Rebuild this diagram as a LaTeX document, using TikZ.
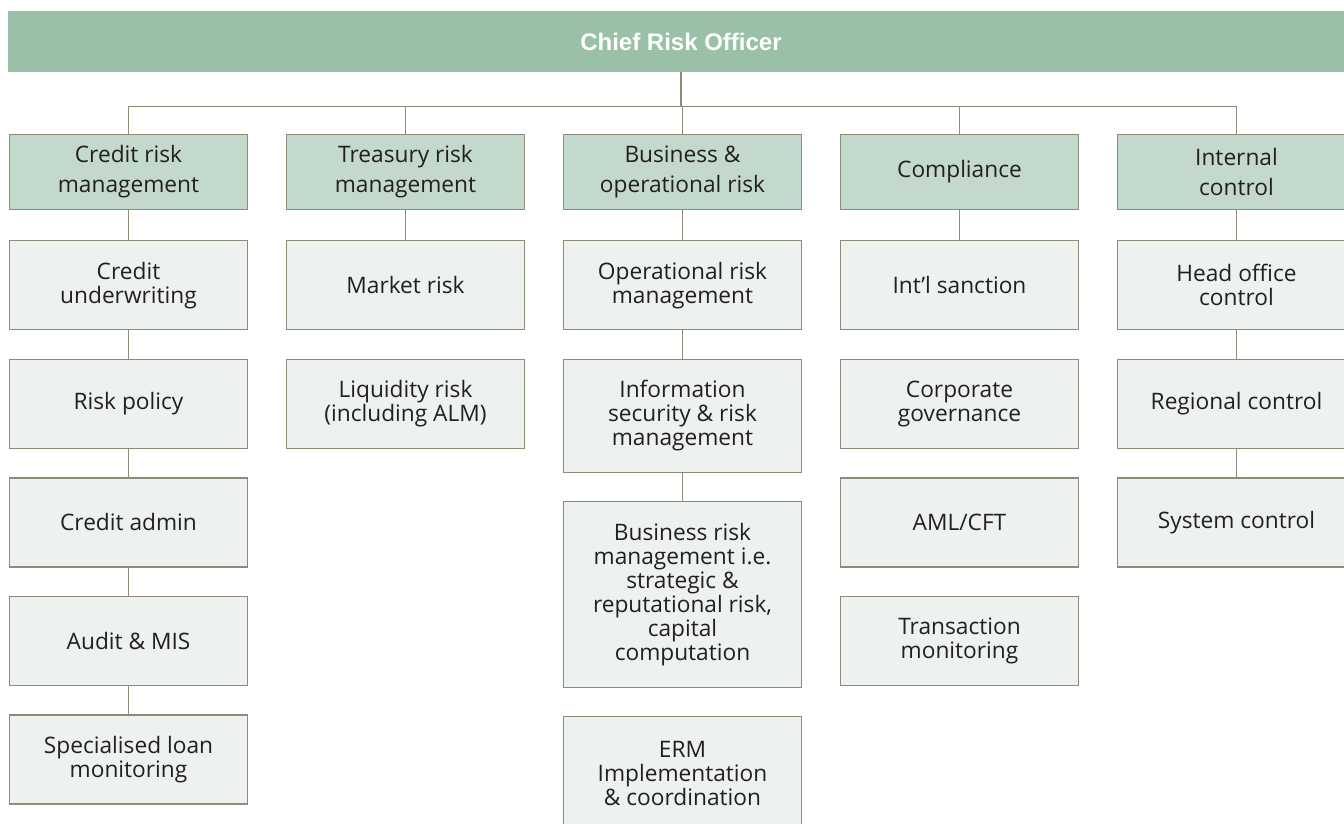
\documentclass[tikz,border=0pt]{standalone}
\usepackage{fontspec}
\setmainfont{Open Sans}
\newfontfamily\titlefont{Liberation Sans}
\usetikzlibrary{positioning}
\definecolor{barGreen}{HTML}{9AC1A8}
\definecolor{unitGreen}{HTML}{C3D9CB}
\definecolor{subGrey}{HTML}{EEF2EF}
\definecolor{lineGrey}{HTML}{8E8C78}
\definecolor{textDark}{HTML}{231F20}
\tikzset{
	unit/.style={draw=lineGrey, line width=1.3pt, fill=unitGreen, minimum width=238pt, minimum height=75pt, inner sep=0pt, align=center, text=textDark, font=\fontsize{22.7}{30}\selectfont},
	sub/.style={unit, fill=subGrey, minimum height=89pt, font=\fontsize{22.7}{24}\selectfont},
	link/.style={draw=lineGrey, line width=1.3pt}
}

\begin{document}
\begin{tikzpicture}[x=1pt,y=-1pt,on grid,node distance=277pt]
			\useasboundingbox (0,0) rectangle (1344,823);
			\node[fill=barGreen, minimum width=1346pt, minimum height=61pt, inner sep=0pt, text=white, font=\titlefont\bfseries\fontsize{24}{28}\selectfont] (cro) at (681,41.5) {Chief Risk Officer};
			% units
			\node[unit] (cr) at (128.5,171.8) {Credit risk\\management};
			\node[unit] (tr) [right=of cr] {Treasury risk\\management};
			\node[unit] (br) [right=of tr] {Business \&\\operational risk};
			\node[unit] (co) [right=of br] {Compliance};
			\node[unit] (ic) [right=of co] {Internal\\control};
			% credit
			\node[sub] (cu) [below=113.4pt of cr] {Credit\\underwriting};
			\node[sub] (rp) [below=118.6pt of cu] {Risk policy};
			\node[sub] (ca) [below=118.6pt of rp] {Credit admin};
			\node[sub] (am) [below=118.6pt of ca] {Audit \& MIS};
			\node[sub] (sl) [below=118.6pt of am] {Specialised loan\\monitoring};
			% treasury
			\node[sub] (mr) [below=113.4pt of tr] {Market risk};
			\node[sub] (lr) [below=118.6pt of mr] {Liquidity risk\\(including ALM)};
			% business
			\node[sub] (op) [below=113.4pt of br] {Operational risk\\management};
			\node[sub, minimum height=113pt] (is) [below=130.5pt of op] {Information\\security \& risk\\management};
			\node[sub, minimum height=186pt] (bz) [below=179.1pt of is] {Business risk\\management i.e.\\strategic \&\\reputational risk,\\capital\\computation};
			\node[sub, minimum height=113pt] (erm) [below=178.2pt of bz] {ERM\\Implementation\\\& coordination};
			% compliance
			\node[sub] (sa) [below=113.4pt of co] {Int’l sanction};
			\node[sub] (cg) [below=118.6pt of sa] {Corporate\\governance};
			\node[sub] (aml) [below=118.6pt of cg] {AML/CFT};
			\node[sub] (tm) [below=118.6pt of aml] {Transaction\\monitoring};
			% internal control
			\node[sub] (ho) [below=113.4pt of ic] {Head office\\control};
			\node[sub] (rc) [below=118.6pt of ho] {Regional control};
			\node[sub] (sc) [below=118.6pt of rc] {System control};
			% lines
			\coordinate (bus) at (681,106.7);
			\draw[link] (cro.south) -- (bus);
			\foreach \n in {cr,tr,br,co,ic}
				\draw[link] (\n.north) |- (bus);
			\foreach \a/\b in {cr/cu,cu/rp,rp/ca,ca/am,am/sl,tr/mr,br/op,op/is,is/bz,co/sa,ic/ho,ho/rc,rc/sc}
				\draw[link] (\a.south) -- (\b.north);
		\end{tikzpicture}
\end{document}
